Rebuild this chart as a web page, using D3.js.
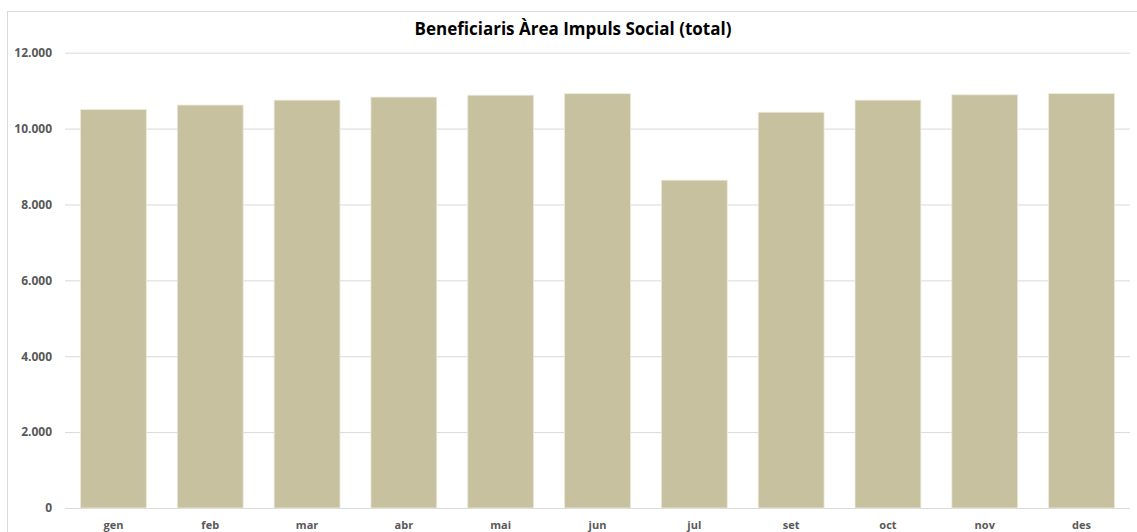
<!DOCTYPE html>
<html>
<head>
<meta charset="utf-8">
<script src="https://cdn.jsdelivr.net/npm/d3@7"></script>
<style>
  body { margin: 0; background: #fff; }
  svg { display: block; }
</style>
</head>
<body>
<svg id="chart"></svg>
<script>
// data
const months = ['gen', 'feb', 'mar', 'abr', 'mai', 'jun', 'jul', 'set', 'oct', 'nov', 'des'];
const beneficiaris = [10500, 10620, 10750, 10830, 10880, 10920, 8640, 10430, 10750, 10890, 10920];
const yTicks = [0, 2000, 4000, 6000, 8000, 10000, 12000];
const title = 'Beneficiaris Àrea Impuls Social (total)';

//base setting
const width = 1137;
const height = 532;
const margin = { top: 52.7, right: 7, bottom: 24, left: 65 };
const color = '#c7c19f';
const font = "'Open Sans', 'Noto Sans', sans-serif";

const svg = d3.select('#chart').attr('width', width).attr('height', height);

// chart frame
svg.append('rect')
  .attr('x', 7.5).attr('y', 11.5)
  .attr('width', width + 10).attr('height', height + 10)
  .attr('fill', 'none').attr('stroke', '#d9d9d9');

// x value scaling
const x = d3.scaleBand()
  .domain(months)
  .range([margin.left, width - margin.right])
  .paddingInner(0.32)
  .paddingOuter(0.16);

// y value scaling
const y = d3.scaleLinear()
  .domain([0, 12000])
  .range([height - margin.bottom, margin.top]);

// gridlines + y labels
const yAxis = (g) => g
  .attr('transform', `translate(${margin.left},0)`)
  .call(d3.axisLeft(y).tickValues(yTicks)
    .tickSize(-(width - margin.right - margin.left))
    .tickPadding(13)
    .tickFormat((d) => d3.format(',')(d).replace(/,/g, '.')))
  .call((g) => g.select('.domain').remove())
  .call((g) => g.selectAll('.tick line').attr('stroke', '#d9d9d9'))
  .call((g) => g.selectAll('.tick text')
    .attr('fill', '#595959')
    .style('font', `bold 12px ${font}`));

svg.append('g').call(yAxis);

// bars
svg.append('g')
  .selectAll('rect')
  .data(beneficiaris)
  .join('rect')
  .attr('x', (d, i) => x(months[i]))
  .attr('y', (d) => y(d))
  .attr('width', x.bandwidth())
  .attr('height', (d) => y(0) - y(d))
  .attr('fill', color)
  .attr('stroke', '#ebe8da')
  .attr('stroke-width', 0.8);

// x labels
const xAxis = (g) => g
  .attr('transform', `translate(0,${height - margin.bottom})`)
  .call(d3.axisBottom(x).tickSize(0).tickPadding(13))
  .call((g) => g.select('.domain').remove())
  .call((g) => g.selectAll('.tick text')
    .attr('fill', '#595959')
    .style('font', `bold 11px ${font}`));

svg.append('g').call(xAxis);

// title
svg.append('text')
  .attr('x', 573)
  .attr('y', 35)
  .attr('text-anchor', 'middle')
  .attr('fill', '#000')
  .style('font', `bold 17px ${font}`)
  .text(title);
</script>
</body>
</html>
